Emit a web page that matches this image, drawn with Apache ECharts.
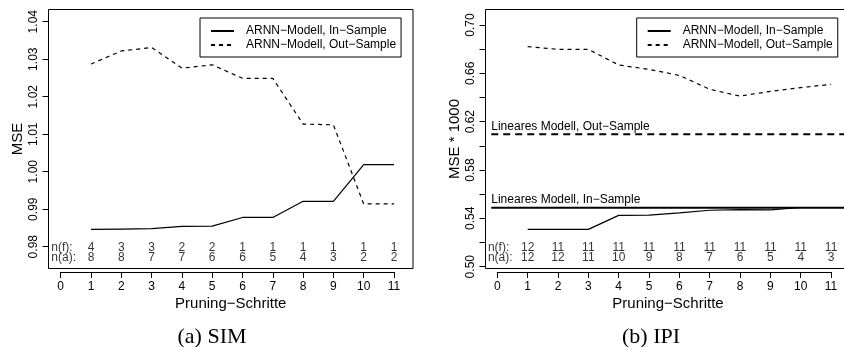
<!DOCTYPE html>
<html>
<head>
<meta charset="utf-8">
<script src="https://cdn.jsdelivr.net/npm/echarts@6/dist/echarts.min.js"></script>
<style>html,body{margin:0;padding:0;background:#fff}#c{width:844px;height:347px}</style>
</head>
<body>
<div id="c"></div>
<script>
// ---- data ----
const steps = [1, 2, 3, 4, 5, 6, 7, 8, 9, 10, 11];
const simIn  = [0.9846, 0.9847, 0.9848, 0.9854, 0.9855, 0.9878, 0.9878, 0.9921, 0.9921, 1.0019, 1.0019];
const simOut = [1.0287, 1.0322, 1.0331, 1.0276, 1.0285, 1.0249, 1.0249, 1.0127, 1.0125, 0.9914, 0.9914];
const simNf  = [4, 3, 3, 2, 2, 1, 1, 1, 1, 1, 1];
const simNa  = [8, 8, 7, 7, 6, 6, 5, 4, 3, 2, 2];
const ipiIn  = [0.5309, 0.5309, 0.5309, 0.5425, 0.5427, 0.5446, 0.5467, 0.5473, 0.5470, 0.5490, 0.5490];
const ipiOut = [0.6821, 0.6799, 0.6799, 0.6669, 0.6633, 0.6583, 0.6468, 0.6412, 0.6451, 0.6482, 0.6509];
const ipiNf  = [12, 11, 11, 11, 11, 11, 11, 11, 11, 11, 11];
const ipiNa  = [12, 12, 11, 10, 9, 8, 7, 6, 5, 4, 3];
const ipiLinIn  = 0.5487;
const ipiLinOut = 0.6095;
const linStartX = -0.2;
const linEndX = 11.6;
const nameIn  = 'ARNN\u2212Modell, In\u2212Sample';
const nameOut = 'ARNN\u2212Modell, Out\u2212Sample';
const xTitle  = 'Pruning\u2212Schritte';

// ---- chart ----
const FONT = '"Liberation Sans", Arial, Helvetica, sans-serif';
const BLACK = '#000';
const chart = echarts.init(document.getElementById('c'), null, {renderer: 'canvas'});

function toXY(xs, ys) { return xs.map((x, i) => [x, ys[i]]); }
function textRow(label, vals, rowY, xLabel) {
  const d = vals.map((v, i) => ({value: [steps[i], rowY], label: {formatter: String(v), position: 'inside'}}));
  d.push({value: [xLabel, rowY], label: {formatter: label, position: 'right', distance: 0}});
  return d;
}

const hiddenAxis = (gi) => ({gridIndex: gi, type: 'value', show: false});

const grids = [
  {left: 48.5, top: 9.5, width: 364.5, height: 259, show: true, borderColor: BLACK, borderWidth: 1, backgroundColor: 'transparent', containLabel: false, outerBoundsMode: 'none'},
  {left: 60.7, top: 271, width: 333.3, height: 1, containLabel: false, outerBoundsMode: 'none'},
  {left: 48.5, top: 21.7, width: 364.5, height: 225, containLabel: false, outerBoundsMode: 'none'},
  {left: 485.5, top: 9.5, width: 365, height: 259, show: true, borderColor: BLACK, borderWidth: 1, backgroundColor: 'transparent', containLabel: false, outerBoundsMode: 'none'},
  {left: 497.3, top: 271, width: 333.7, height: 1, containLabel: false, outerBoundsMode: 'none'},
  {left: 485.5, top: 25, width: 365, height: 241.7, containLabel: false, outerBoundsMode: 'none'}
];

const dataX = (gi, min, max) => ({
  gridIndex: gi, type: 'value', min: min, max: max,
  axisLine: {show: false}, axisTick: {show: false}, axisLabel: {show: false}, splitLine: {show: false},
  name: xTitle, nameLocation: 'middle', nameGap: 28,
  nameTextStyle: {fontFamily: FONT, fontSize: 15, color: BLACK}
});
const tickX = (gi) => ({
  gridIndex: gi, type: 'value', min: 0, max: 11, interval: 1, position: 'bottom',
  axisLine: {show: true, lineStyle: {color: BLACK, width: 1}},
  axisTick: {show: true, length: 6, lineStyle: {color: BLACK, width: 1}},
  axisLabel: {show: true, fontFamily: FONT, fontSize: 12, color: BLACK, margin: 9},
  splitLine: {show: false}
});
const dataY = (gi, min, max, name, gap) => ({
  gridIndex: gi, type: 'value', min: min, max: max,
  axisLine: {show: false}, axisTick: {show: false}, axisLabel: {show: false}, splitLine: {show: false},
  name: name, nameLocation: 'middle', nameGap: gap, nameRotate: 90,
  nameTextStyle: {fontFamily: FONT, fontSize: 15, color: BLACK}
});
const tickY = (gi, min, max, interval, fmt) => ({
  gridIndex: gi, type: 'value', min: min, max: max, interval: interval, position: 'left',
  axisLine: {show: false},
  axisTick: {show: true, length: 6, lineStyle: {color: BLACK, width: 1}},
  axisLabel: {show: true, rotate: 90, fontFamily: FONT, fontSize: 12, color: BLACK, margin: 9, formatter: fmt},
  splitLine: {show: false}
});

const lineSeries = (name, xi, yi, data, dashed) => ({
  name: name, type: 'line', xAxisIndex: xi, yAxisIndex: yi, data: data,
  symbol: 'none', showSymbol: false, smooth: false, animation: false,
  lineStyle: {color: BLACK, width: 1.2, type: dashed ? [4, 4] : 'solid'},
  itemStyle: {color: BLACK}
});
const textSeries = (xi, yi, data) => ({
  type: 'scatter', xAxisIndex: xi, yAxisIndex: yi, data: data, symbolSize: 0.1,
  itemStyle: {color: 'rgba(0,0,0,0)'}, animation: false, silent: true,
  label: {show: true, fontFamily: FONT, fontSize: 12, color: BLACK}
});
const legendCfg = (left) => ({
  orient: 'vertical', left: left, top: 18,
  padding: [7, 5, 6, 10], itemGap: 2, itemWidth: 23, itemHeight: 14,
  borderColor: BLACK, borderWidth: 1, borderRadius: 0, backgroundColor: '#fff',
  itemStyle: {opacity: 0, borderWidth: 0},
  textStyle: {fontFamily: FONT, fontSize: 12, color: BLACK, padding: [0, 0, 0, 7]},
  data: [nameIn, nameOut], selectedMode: false
});
const linLine = (name, v, label, dashed) => ({
  name: name, type: 'line', xAxisIndex: 3, yAxisIndex: 3,
  data: [[linStartX, v], [linEndX, v]],
  symbol: 'none', showSymbol: false, animation: false, silent: true,
  lineStyle: {color: BLACK, width: 2, type: dashed ? [7, 5] : 'solid'},
  label: {show: false},
  markPoint: {
    symbol: 'circle', symbolSize: 0.1, silent: true, animation: false,
    itemStyle: {color: 'rgba(0,0,0,0)'},
    data: [{coord: [linStartX, v],
      label: {show: true, position: 'right', distance: 0, offset: [0, -8], formatter: label, fontFamily: FONT, fontSize: 12, color: BLACK}}]
  }
});

const option = {
  animation: false,
  backgroundColor: '#fff',
  textStyle: {fontFamily: FONT},
  grid: grids,
  legend: [legendCfg(200), legendCfg(636.7)],
  xAxis: [
    dataX(0, -0.403, 11.627), tickX(1), hiddenAxis(2),
    dataX(3, -0.389, 11.64), tickX(4), hiddenAxis(5)
  ],
  yAxis: [
    dataY(0, 0.97419, 1.04325, 'MSE', 23), hiddenAxis(1),
    tickY(2, 0.98, 1.04, 0.01, v => v.toFixed(2)),
    dataY(3, 0.49851, 0.71283, 'MSE * 1000', 23), hiddenAxis(4),
    tickY(5, 0.50, 0.70, 0.02, v => (Math.round(v * 100) % 4 === 2 ? v.toFixed(2) : ''))
  ],
  series: [
    lineSeries(nameIn, 0, 0, toXY(steps, simIn), false),
    lineSeries(nameOut, 0, 0, toXY(steps, simOut), true),
    textSeries(0, 0, textRow('n(f):', simNf, 0.9798, -0.31).concat(textRow('n(a):', simNa, 0.97699, -0.31))),
    linLine('Lineares Modell, In\u2212Sample', ipiLinIn, 'Lineares Modell, In\u2212Sample', false),
    linLine('Lineares Modell, Out\u2212Sample', ipiLinOut, 'Lineares Modell, Out\u2212Sample', true),
    lineSeries(nameIn, 3, 3, toXY(steps, ipiIn), false),
    lineSeries(nameOut, 3, 3, toXY(steps, ipiOut), true),
    textSeries(3, 3, textRow('n(f):', ipiNf, 0.5159, -0.31).concat(textRow('n(a):', ipiNa, 0.5072, -0.31)))
  ],
  graphic: [
    {type: 'text', x: 212, y: 337, silent: true, style: {text: '(a) SIM', textAlign: 'center', textVerticalAlign: 'middle', font: '22px "Liberation Serif", "Times New Roman", serif', fill: BLACK}},
    {type: 'text', x: 651, y: 337, silent: true, style: {text: '(b) IPI', textAlign: 'center', textVerticalAlign: 'middle', font: '22px "Liberation Serif", "Times New Roman", serif', fill: BLACK}}
  ]
};
chart.setOption(option);
</script>
</body>
</html>
